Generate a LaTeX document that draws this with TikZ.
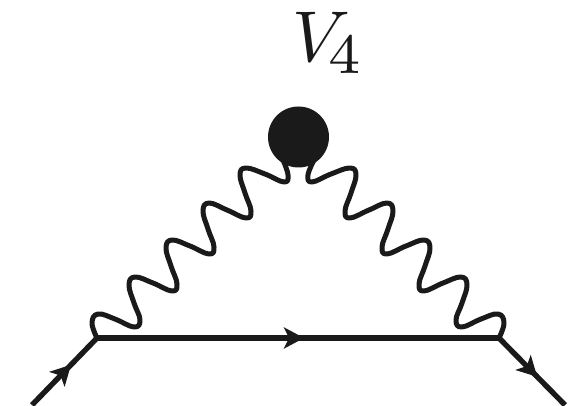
\documentclass[tikz,border=0pt]{standalone}
\usepackage{graphicx}
\usetikzlibrary{decorations.markings,arrows.meta}
\definecolor{ink}{HTML}{1A1A1A}
\tikzset{
  fermion/.style={draw=ink,line width=5.4pt},
  boson/.style={draw=ink,line width=5pt,line join=round},
  arrowat/.style={postaction={decorate,decoration={markings,mark=at position #1 with {\arrow{Stealth[length=20pt,width=21pt,inset=5pt]}}}}},
  vertexdot/.style={circle,fill=ink,inner sep=0pt,minimum size=5.4pt},
  blob/.style={circle,fill=ink,inner sep=0pt,minimum size=61pt}
}
\begin{document}
\begin{tikzpicture}[x=1pt,y=-1pt]
\useasboundingbox (0,0) rectangle (573,406);
\fill[white] (0,0) rectangle (573,406);
\node[blob] (b) at (298.5,137) {};
\node[vertexdot] (v1) at (97,338) {};
\node[vertexdot] (v2) at (499,338) {};
\coordinate (in) at (32,405);
\coordinate (out) at (565,405);
\coordinate (bl) at (283,160);
\coordinate (br) at (314,160);
\draw[fermion,arrowat=0.6] (in) -- (v1.center);
\draw[fermion,arrowat=0.515] (v1.center) -- (v2.center);
\draw[fermion,arrowat=0.58] (v2.center) -- (out);
\draw[boson] plot[smooth,tension=0.72] coordinates {(v1.center) (92,323) (98,314) (115,319) (134,327) (140,320) (134,303) (129,285) (135,277) (153,283) (172,291) (177,284) (171,266) (166,248) (172,240) (190,246) (209,254) (214,247) (208,229) (203,211) (209,203) (227,210) (246,218) (251,211) (245,193) (240,175) (246,168) (265,174) (284,182) (288,175) (bl)};
\draw[boson] plot[smooth,tension=0.72] coordinates {(v2.center) (504,323) (498,314) (481,319) (462,327) (456,320) (462,303) (467,285) (461,277) (443,283) (424,291) (419,284) (425,266) (430,248) (424,240) (406,246) (387,254) (382,247) (388,229) (393,211) (387,203) (369,210) (350,218) (345,211) (351,193) (356,175) (350,168) (331,174) (312,182) (308,175) (br)};
\node[text=ink,inner sep=0pt] (lab) at (328.5,42.5) {\scalebox{7.2}{$V_{\kern-0.9pt\scalebox{1.13}{$\scriptstyle 4$}}$}};
\end{tikzpicture}
\end{document}
